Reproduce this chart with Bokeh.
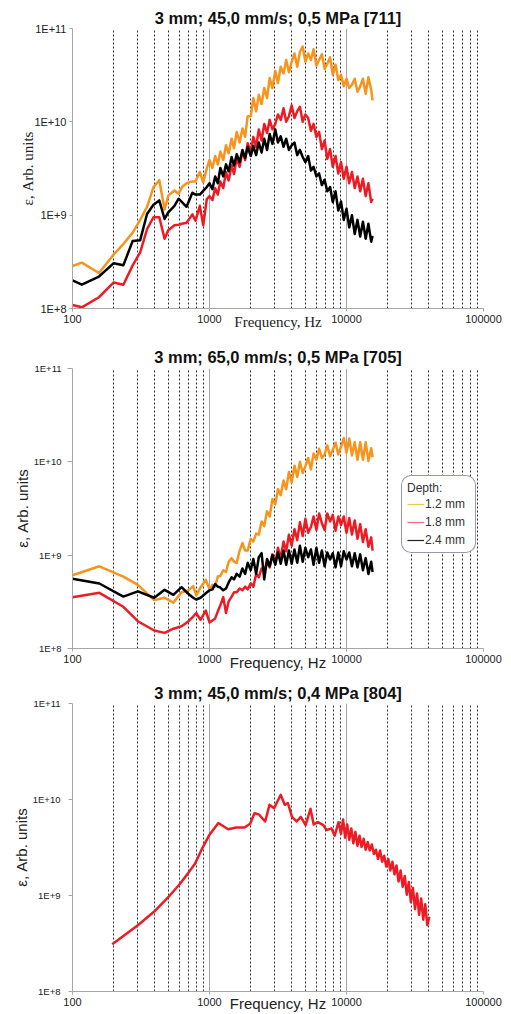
from bokeh.plotting import figure
from bokeh.models import FixedTicker, CustomJSTickFormatter, Legend, LegendItem, Range1d
from bokeh.layouts import column
from bokeh.embed import file_html
from bokeh.resources import INLINE

# ---------------- data ----------------
X_TICKS = [100, 1000, 10000, 100000]
X_MINOR = [200, 300, 400, 500, 600, 700, 800, 900,
           2000, 3000, 4000, 5000, 6000, 7000, 8000, 9000,
           20000, 30000, 40000, 50000, 60000, 70000, 80000, 90000]
Y_TICKS = [1e8, 1e9, 1e10, 1e11]

TITLES = ["3 mm; 45,0 mm/s; 0,5 MPa [711]",
          "3 mm; 65,0 mm/s; 0,5 MPa [705]",
          "3 mm; 45,0 mm/s; 0,4 MPa [804]"]
X_LABEL = "Frequency, Hz"
Y_LABEL = "\u03b5, Arb. units"
LEGEND_TITLE = "Depth:"
LEGEND_LABELS = ["1.2 mm", "1.8 mm", "2.4 mm"]

# shared high-frequency grid (Hz) for panels 1 and 2
freq_high = [1000, 1050, 1100, 1150, 1200, 1260, 1320, 1380, 1450, 1510, 1580, 1660, 1740,
             1820, 1900, 2000, 2090, 2190, 2290, 2400, 2510, 2630, 2750, 2880, 3020, 3160,
             3310, 3470, 3630, 3800, 3980, 4170, 4370, 4570, 4790, 5010, 5250, 5500, 5750,
             6030, 6310, 6610, 6920, 7240, 7590, 7940, 8320, 8710, 9120, 9550, 10000, 10470,
             10960, 11480, 12020, 12590, 13180, 13800, 14450, 15140, 15500]

# panel 1 [711]
freq_low_711 = [100, 117, 156, 200, 235, 275, 312, 350, 390, 430, 470, 500, 555, 595, 630,
                680, 750, 790, 850, 900, 955]
d12_low_711 = [2.85e8, 3.1e8, 2.4e8, 3.8e8, 4.9e8, 6.5e8, 8.9e8, 1.23e9, 2.0e9, 2.37e9, 1.15e9,
               1.62e9, 1.84e9, 1.7e9, 2.0e9, 2.2e9, 2.3e9, 2.3e9, 2.9e9, 2.25e9, 3.15e9]
d18_low_711 = [1.09e8, 1.03e8, 1.32e8, 1.9e8, 1.8e8, 2.9e8, 4.0e8, 7.1e8, 9.5e8, 9.5e8, 5.6e8,
               6.9e8, 7.8e8, 7.9e8, 8.1e8, 8.3e8, 1.02e9, 8.7e8, 1.26e9, 7.8e8, 1.48e9]
d24_low_711 = [2.0e8, 1.8e8, 2.2e8, 3.06e8, 2.9e8, 5.3e8, 5.4e8, 1.03e9, 1.29e9, 1.44e9, 9.1e8,
               1.07e9, 1.26e9, 1.5e9, 1.38e9, 1.23e9, 1.74e9, 1.66e9, 1.66e9, 1.82e9, 2.0e9]
d12_high_711 = [3.9e9, 3.2e9, 4.3e9, 3.5e9, 4.8e9, 3.9e9, 5.6e9, 4.6e9, 6.6e9, 5.2e9, 7.8e9,
                6.0e9, 8.5e9, 6.9e9, 1.15e10, 1.15e10, 1.8e10, 1.3e10, 1.95e10, 1.55e10, 2.3e10,
                1.8e10, 2.95e10, 2.3e10, 3.5e10, 2.6e10, 3.9e10, 3.3e10, 4.6e10, 3.4e10, 4.4e10,
                5.4e10, 3.9e10, 5.6e10, 6.4e10, 4.4e10, 5.4e10, 4.6e10, 6.0e10, 4.0e10, 4.6e10,
                5.3e10, 3.7e10, 4.2e10, 4.9e10, 3.2e10, 4.1e10, 2.8e10, 3.2e10, 2.4e10, 2.9e10,
                2.3e10, 2.5e10, 2.9e10, 2.1e10, 2.4e10, 2.9e10, 2.0e10, 3.0e10, 2.2e10, 1.7e10]
d18_high_711 = [1.6e9, 1.45e9, 1.95e9, 1.66e9, 2.3e9, 1.95e9, 2.9e9, 2.35e9, 3.4e9, 2.75e9, 4.1e9,
                3.3e9, 4.8e9, 3.9e9, 5.9e9, 4.7e9, 6.9e9, 5.4e9, 8.3e9, 6.3e9, 9.5e9, 7.6e9,
                1.05e10, 8.3e9, 9.5e9, 1.2e10, 1.05e10, 1.4e10, 1.0e10, 1.15e10, 1.5e10, 1.1e10,
                1.3e10, 1.45e10, 1.0e10, 1.2e10, 1.1e10, 8.0e9, 9.5e9, 6.9e9, 7.8e9, 5.1e9,
                6.3e9, 4.0e9, 5.1e9, 3.3e9, 4.3e9, 2.8e9, 3.7e9, 2.45e9, 3.3e9, 2.2e9, 2.9e9,
                1.95e9, 2.6e9, 1.8e9, 2.45e9, 1.6e9, 2.2e9, 1.38e9, 1.5e9]
d24_high_711 = [2.2e9, 1.9e9, 2.6e9, 2.2e9, 3.2e9, 2.6e9, 3.5e9, 2.95e9, 4.2e9, 3.4e9, 4.5e9,
                3.7e9, 5.0e9, 4.1e9, 5.4e9, 4.3e9, 5.5e9, 4.4e9, 6.0e9, 4.7e9, 6.6e9, 5.0e9,
                7.4e9, 5.8e9, 8.3e9, 6.0e9, 7.0e9, 5.4e9, 6.6e9, 5.0e9, 5.6e9, 6.0e9, 4.4e9,
                5.0e9, 4.2e9, 3.7e9, 4.3e9, 3.0e9, 3.3e9, 2.6e9, 2.8e9, 2.1e9, 2.4e9,
                1.8e9, 2.0e9, 1.38e9, 1.8e9, 1.12e9, 1.4e9, 8.9e8, 1.17e9, 7.4e8, 1.0e9, 6.3e8,
                8.9e8, 5.9e8, 8.5e8, 5.6e8, 8.1e8, 5.2e8, 6.0e8]

# panel 2 [705]
freq_low_705 = [100, 157, 235, 300, 395, 470, 545, 625, 700, 760, 800, 860, 940]
d12_low_705 = [6.1e8, 7.6e8, 5.9e8, 4.8e8, 3.3e8, 3.5e8, 3.1e8, 4.0e8, 4.2e8, 4.66e8, 3.7e8,
               4.5e8, 5.45e8]
d18_low_705 = [3.55e8, 3.95e8, 2.8e8, 1.96e8, 1.56e8, 1.47e8, 1.63e8, 1.73e8, 1.95e8, 2.2e8,
               2.4e8, 2.03e8, 2.55e8]
d24_low_705 = [5.6e8, 4.97e8, 3.6e8, 4.1e8, 3.5e8, 4.25e8, 3.76e8, 4.54e8, 3.86e8, 3.5e8,
               3.35e8, 3.5e8, 3.9e8]
d12_high_705 = [4.3e8, 4.8e8, 4.6e8, 5.9e8, 6.0e8, 6.9e8, 6.6e8, 8.5e8, 9.3e8, 8.5e8, 8.3e8,
                1.12e9, 1.35e9, 1.12e9, 1.12e9, 1.5e9, 1.4e9, 1.7e9, 1.66e9, 2.3e9, 2.05e9,
                2.95e9, 2.6e9, 4.0e9, 3.5e9, 5.1e9, 4.4e9, 6.3e9, 5.1e9, 7.8e9, 6.0e9, 9.1e9,
                6.9e9, 1.0e10, 7.6e9, 9.0e9, 1.1e10, 8.3e9, 1.23e10, 1.05e10, 1.38e10, 1.1e10,
                1.2e10, 1.5e10, 1.15e10, 1.35e10, 1.6e10, 1.2e10, 1.45e10, 1.8e10, 1.25e10,
                1.78e10, 1.17e10, 1.62e10, 1.05e10, 1.62e10, 1.05e10, 1.62e10, 1.02e10, 1.4e10,
                1.12e10]
d18_high_705 = [1.9e8, 2.0e8, 2.1e8, 2.5e8, 2.9e8, 3.55e8, 2.4e8, 3.2e8, 3.6e8, 4.0e8, 4.0e8,
                4.4e8, 4.2e8, 4.6e8, 4.3e8, 5.0e8, 4.6e8, 6.3e8, 5.8e8, 7.2e8, 6.8e8, 8.5e8,
                7.4e8, 1.02e9, 8.1e8, 1.2e9, 9.3e8, 1.4e9, 1.1e9, 1.66e9, 1.26e9, 1.9e9, 1.45e9,
                2.25e9, 1.6e9, 2.45e9, 1.74e9, 2.0e9, 2.6e9, 1.86e9, 2.8e9, 2.2e9, 1.86e9,
                2.8e9, 2.3e9, 2.7e9, 1.82e9, 2.6e9, 2.1e9, 2.6e9, 1.74e9, 2.5e9, 1.66e9,
                2.35e9, 1.5e9, 2.15e9, 1.38e9, 1.9e9, 1.23e9, 1.55e9, 1.12e9]
d24_high_705 = [4.2e8, 4.3e8, 4.9e8, 4.6e8, 4.5e8, 4.2e8, 4.4e8, 5.1e8, 5.8e8, 5.5e8, 6.3e8,
                5.9e8, 7.2e8, 6.3e8, 8.3e8, 6.9e8, 9.1e8, 6.3e8, 9.5e8, 1.05e9, 5.5e8, 9.1e8,
                7.6e8, 1.0e9, 7.9e8, 1.07e9, 8.1e8, 1.12e9, 7.9e8, 1.12e9, 8.1e8, 1.15e9, 8.3e8,
                1.26e9, 8.5e8, 1.2e9, 9.5e8, 1.15e9, 7.9e8, 1.2e9, 8.3e8, 1.12e9, 7.6e8, 1.07e9,
                9.0e8, 1.05e9, 7.4e8, 1.07e9, 7.6e8, 1.1e9, 9.0e8, 1.07e9, 7.6e8, 1.05e9, 7.4e8,
                1.02e9, 6.9e8, 9.3e8, 6.3e8, 8.5e8, 6.6e8]

# panel 3 [804]
freq_804 = [195, 300, 395, 500, 605, 690, 785, 885, 1000, 1160, 1370, 1570, 1800, 1980, 2130,
            2290, 2550, 2740, 2960, 3310, 3540, 3730, 4000, 4320, 4640, 5030, 5460, 5760, 6180,
            6780, 7160, 7770, 8200, 8750,
            9120, 9440, 9770, 10120, 10470, 10840, 11220, 11610, 12020, 12450, 12880, 13340,
            13800, 14290, 14790, 15310, 15850, 16410, 16980, 17580, 18200, 18840, 19500, 20180,
            20890, 21630, 22390, 23170, 23990, 24830, 25700, 26610, 27540, 28510, 29510, 30550,
            31620, 32730, 33880, 35080, 36310, 37580, 38900, 40270]
d18_804 = [3.1e8, 4.9e8, 6.8e8, 9.6e8, 1.31e9, 1.67e9, 2.15e9, 3.1e9, 4.3e9, 5.7e9, 4.9e9,
           5.1e9, 5.1e9, 5.6e9, 7.2e9, 7.0e9, 5.9e9, 8.8e9, 8.1e9, 1.12e10, 8.8e9, 9.2e9, 6.6e9,
           5.9e9, 6.6e9, 5.4e9, 8.0e9, 5.5e9, 5.8e9, 5.4e9, 4.8e9, 5.0e9, 4.2e9, 5.8e9,
           4.4e9, 6.2e9, 4.0e9, 5.5e9, 3.8e9, 5.0e9, 3.5e9, 4.6e9, 3.3e9, 4.2e9, 3.2e9, 3.9e9,
           3.0e9, 3.6e9, 2.95e9, 3.4e9, 2.7e9, 3.0e9, 2.4e9, 2.95e9, 2.25e9, 2.6e9, 2.0e9,
           2.4e9, 1.82e9, 2.25e9, 1.66e9, 2.05e9, 1.4e9, 1.82e9, 1.23e9, 1.6e9, 1.02e9, 1.38e9,
           8.5e8, 1.2e9, 7.2e8, 1.05e9, 6.3e8, 9.3e8, 5.6e8, 8.1e8, 4.9e8, 6.0e8]

ORANGE = "#F7941D"
RED = "#ED1C24"
BLACK = "#000000"
LEGEND_COLORS = ["#F2C44A", "#F06A70", "#222222"]
GRAY = "#A6A6A6"
SANS = "Liberation Sans"
SERIF = "Liberation Serif"


def make_panel(title, height, left, right, top, bottom, title_standoff, serif,
               ytick_size, ylab_standoff, ytick_standoff, ytick_out, xlab_standoff):
    p = figure(width=511, height=height, x_axis_type="log", y_axis_type="log",
               x_range=Range1d(100, 100000), y_range=Range1d(1e8, 1e11),
               output_backend="svg", toolbar_location=None,
               min_border_left=left, min_border_right=right,
               min_border_top=top, min_border_bottom=bottom)
    p.outline_line_color = None
    p.background_fill_color = "white"
    p.border_fill_color = "white"

    xt = FixedTicker(ticks=X_TICKS, minor_ticks=X_MINOR)
    yt = FixedTicker(ticks=Y_TICKS, minor_ticks=[])
    p.xaxis.ticker = xt
    p.xgrid.ticker = xt
    p.yaxis.ticker = yt
    p.xaxis.formatter = CustomJSTickFormatter(code="return tick.toFixed(0);")
    p.yaxis.formatter = CustomJSTickFormatter(
        code="return '1E+' + Math.round(Math.log10(tick));")
    p.xaxis.minor_tick_line_color = None
    p.yaxis.minor_tick_line_color = None
    p.axis.axis_line_color = GRAY
    p.axis.major_tick_line_color = GRAY
    p.axis.major_tick_in = 0
    p.xaxis.major_tick_out = 3
    p.yaxis.major_tick_out = ytick_out
    p.xaxis.major_label_standoff = 2
    p.yaxis.major_label_standoff = ytick_standoff
    p.xaxis.major_label_text_font = SANS
    p.xaxis.major_label_text_font_size = "11px"
    p.yaxis.major_label_text_font = SANS
    p.yaxis.major_label_text_font_size = ytick_size
    p.axis.major_label_text_color = "#222222"

    p.xgrid.grid_line_color = GRAY
    p.xgrid.grid_line_width = 1
    p.xgrid.minor_grid_line_color = "#333333"
    p.xgrid.minor_grid_line_dash = "2 2"
    p.xgrid.minor_grid_line_width = 1
    p.ygrid.grid_line_color = None

    font = SERIF if serif else SANS
    p.yaxis.axis_label = Y_LABEL
    p.yaxis.axis_label_text_font = font
    p.yaxis.axis_label_text_font_size = "15px"
    p.yaxis.axis_label_text_font_style = "normal"
    p.yaxis.axis_label_text_color = "#222222"
    p.yaxis.axis_label_standoff = ylab_standoff

    p.xaxis.axis_label = X_LABEL
    p.xaxis.axis_label_text_font = font
    p.xaxis.axis_label_text_font_size = "15px"
    p.xaxis.axis_label_text_font_style = "normal"
    p.xaxis.axis_label_text_color = "#222222"
    p.xaxis.axis_label_standoff = xlab_standoff

    p.title.text = title
    p.title.align = "center"
    p.title.text_font = SANS
    p.title.text_font_size = "16.5px"
    p.title.text_font_style = "bold"
    p.title.text_color = "#111111"
    p.title.standoff = title_standoff
    return p


p1 = make_panel(TITLES[0], 336, 72, 28, 28, 28, 3, True, "11px", -5, 3, 3, -12)
p1.line(freq_low_711 + freq_high, d12_low_711 + d12_high_711, line_color=ORANGE,
        line_width=2.5, line_join="round")
p1.line(freq_low_711 + freq_high, d18_low_711 + d18_high_711, line_color=RED,
        line_width=2.5, line_join="round")
p1.line(freq_low_711 + freq_high, d24_low_711 + d24_high_711, line_color=BLACK,
        line_width=2.5, line_join="round")

p2 = make_panel(TITLES[1], 337, 64, 22, 32, 25, 6, False, "9.5px", 0, 6, 5, -12)
p2.line(freq_low_705 + freq_high, d12_low_705 + d12_high_705, line_color=ORANGE,
        line_width=2.5, line_join="round")
p2.line(freq_low_705 + freq_high, d18_low_705 + d18_high_705, line_color=RED,
        line_width=2.5, line_join="round")
p2.line(freq_low_705 + freq_high, d24_low_705 + d24_high_705, line_color=BLACK,
        line_width=2.5, line_join="round")

NAN = float("nan")
leg_renderers = [p2.line(x=[NAN], y=[NAN], line_color=c, line_width=1.2)
                 for c in LEGEND_COLORS]
legend = Legend(items=[LegendItem(label=l, renderers=[r])
                       for l, r in zip(LEGEND_LABELS, leg_renderers)],
                title=LEGEND_TITLE, location=(329, 95), orientation="vertical",
                label_text_font=SANS, label_text_font_size="12px", label_text_color="#333333",
                title_text_font=SANS, title_text_font_size="12px", title_text_font_style="normal",
                title_text_color="#333333", title_standoff=2,
                glyph_width=17, glyph_height=14, label_height=14, label_width=45,
                label_standoff=1, padding=5, spacing=4, margin=0,
                border_line_color="#2E3168", border_line_width=1.5,
                background_fill_color="white", background_fill_alpha=1.0)
try:
    legend.border_radius = 10
except Exception:
    pass
p2.add_layout(legend)

p3 = make_panel(TITLES[2], 341, 66, 21, 30, 23, 4, False, "9.5px", 0, 8, 4, -14)
p3.line(freq_804, d18_804, line_color=RED, line_width=2.5, line_join="round")

layout = column(p1, p2, p3)
open("out.html", "w").write(file_html(layout, INLINE))
